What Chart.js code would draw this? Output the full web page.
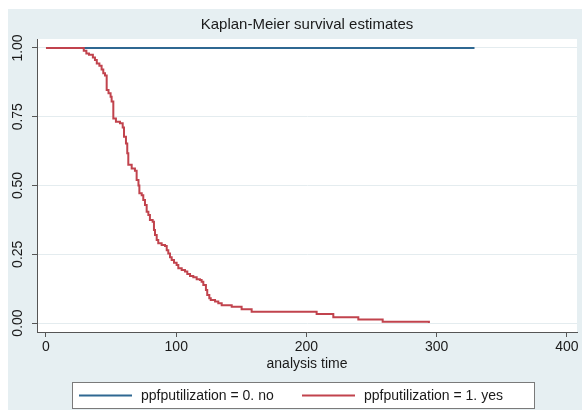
<!DOCTYPE html>
<html>
<head>
<meta charset="utf-8">
<script src="https://cdn.jsdelivr.net/npm/chart.js@4.4.0/dist/chart.umd.min.js"></script>
<style>
  html, body { margin: 0; padding: 0; background: #fff; }
  #wrap { position: relative; width: 582px; height: 410px; }
</style>
</head>
<body>
<div id="wrap"><canvas id="km"></canvas></div>
<script>
// chart text
const titleText = 'Kaplan-Meier survival estimates';
const xTitle = 'analysis time';
const seriesNames = ['ppfputilization = 0. no', 'ppfputilization = 1. yes'];

// axis ticks
const xTicks = [0, 100, 200, 300, 400];
const yTicks = [0, 0.25, 0.5, 0.75, 1];
const yTickLabels = ['0.00', '0.25', '0.50', '0.75', '1.00'];

// group 0 (no): no events
const noTimes = [0, 329];
const noSurv = [1, 1];

// group 1 (yes): survival after each drop
const yesTimes = [0, 29, 31, 33, 36, 37.6, 39, 41, 42.7, 44, 45.3, 46.6, 48, 49.6, 50.4, 51.7, 53.7, 56.8, 58.9, 59.9,
  61.4, 62.4, 63.2, 65.8, 68.3, 69.6, 71, 71.7, 73.5, 74.7, 76, 77.3, 78.6, 79.8, 81.9, 82.9, 83.7, 85, 86.2, 88.8,
  91.4, 92.7, 93.9, 95.2, 96.5, 98.3, 100.3, 101.6, 104.2, 106.7, 108.5, 110.6, 113.1, 115.7, 118.2, 119.5, 120.8,
  122.8, 123.8, 125.4, 126.5, 129.8, 132.3, 134.9, 142.6, 150.2, 157.9, 207.8, 220.6, 239.8, 258.5, 294];
const yesSurv = [1, 0.99, 0.98, 0.975, 0.965, 0.956, 0.944, 0.935, 0.922, 0.908, 0.9, 0.847, 0.835, 0.823, 0.805, 0.744, 0.732, 0.726, 0.711, 0.677,
  0.653, 0.617, 0.575, 0.562, 0.554, 0.52, 0.5, 0.472, 0.465, 0.447, 0.429, 0.405, 0.393, 0.375, 0.368, 0.338, 0.32, 0.302, 0.29, 0.284,
  0.28, 0.265, 0.253, 0.239, 0.229, 0.219, 0.211, 0.199, 0.193, 0.187, 0.178, 0.171, 0.166, 0.159, 0.156, 0.15, 0.138,
  0.12, 0.102, 0.09, 0.084, 0.078, 0.072, 0.065, 0.059, 0.05, 0.041, 0.033, 0.021, 0.013, 0.005, 0];

const FONT = '"Liberation Sans", Arial, sans-serif';
const TEXT = '#1a1a1a';
const BLUE = '#2f6892';
const RED = '#c1434d';

function toPoints(times, surv) {
    return times.map((t, i) => ({ x: t, y: surv[i] }));
}

// stata-like look: grey-blue graph region, vertical y labels, title, boxed legend
const stataLook = {
    id: 'stataLook',
    beforeDraw(chart) {
        const ctx = chart.ctx;
        const a = chart.chartArea;
        ctx.save();
        ctx.fillStyle = '#e6eff2';
        ctx.fillRect(8, 9, chart.width - 8, chart.height - 9);
        ctx.fillStyle = '#ffffff';
        ctx.fillRect(a.left, a.top, a.right - a.left, a.bottom - a.top);
        ctx.restore();
    },
    afterDraw(chart) {
        const ctx = chart.ctx;
        const a = chart.chartArea;
        const yScale = chart.scales.y;
        ctx.save();
        ctx.fillStyle = TEXT;

        // y tick labels, rotated
        ctx.font = '14px ' + FONT;
        ctx.textAlign = 'center';
        ctx.textBaseline = 'middle';
        yTicks.forEach((v, i) => {
            const y = yScale.getPixelForValue(v);
            ctx.save();
            ctx.translate(18, y);
            ctx.rotate(-Math.PI / 2);
            ctx.fillText(yTickLabels[i], 0, 0);
            ctx.restore();
        });

        // title
        ctx.font = '15px ' + FONT;
        ctx.fillText(titleText, (a.left + a.right) / 2, 25);

        // legend
        const boxL = 72, boxR = 535, boxT = 382, boxB = 409;
        ctx.fillStyle = '#ffffff';
        ctx.fillRect(boxL, boxT, boxR - boxL, boxB - boxT);
        ctx.strokeStyle = '#7a7a7a';
        ctx.lineWidth = 1;
        ctx.strokeRect(boxL + 0.5, boxT + 0.5, boxR - boxL - 1, boxB - boxT - 1);
        const midY = (boxT + boxB) / 2;
        const cols = [79, 302];
        const colors = [BLUE, RED];
        ctx.font = '14px ' + FONT;
        ctx.textAlign = 'left';
        cols.forEach((x, i) => {
            ctx.strokeStyle = colors[i];
            ctx.lineWidth = 2;
            ctx.beginPath();
            ctx.moveTo(x, midY);
            ctx.lineTo(x + 53, midY);
            ctx.stroke();
            ctx.fillStyle = TEXT;
            ctx.fillText(chart.data.datasets[i].label, x + 62, midY + 1);
        });
        ctx.restore();
    }
};

const ctx = document.getElementById('km').getContext('2d');
const chart = new Chart(ctx, {
    type: 'line',
    data: {
        datasets: [
            {
                label: seriesNames[0],
                data: toPoints(noTimes, noSurv),
                borderColor: BLUE,
                borderWidth: 2,
                stepped: 'before',
                pointRadius: 0,
                fill: false,
                order: 2
            },
            {
                label: seriesNames[1],
                data: toPoints(yesTimes, yesSurv),
                borderColor: RED,
                borderWidth: 2,
                stepped: 'before',
                pointRadius: 0,
                fill: false,
                order: 1
            }
        ]
    },
    options: {
        responsive: true,
        maintainAspectRatio: false,
        animation: false,
        layout: { padding: { top: 39, left: 0, right: 5, bottom: 37 } },
        plugins: {
            legend: { display: false },
            title: { display: false },
            tooltip: { enabled: false }
        },
        scales: {
            x: {
                type: 'linear',
                min: -6.9,
                max: 407.7,
                afterBuildTicks: s => { s.ticks = xTicks.map(v => ({ value: v })); },
                afterFit: s => { s.height = 41; },
                grid: { drawOnChartArea: false, drawTicks: true, tickLength: 5, tickColor: '#555' },
                border: { display: true, color: '#555', width: 1 },
                ticks: { color: TEXT, font: { family: FONT, size: 14 }, padding: 2, maxRotation: 0 },
                title: { display: true, text: xTitle, color: TEXT, font: { family: FONT, size: 14 }, padding: { top: 0, bottom: 0 } }
            },
            y: {
                type: 'linear',
                min: -0.0327,
                max: 1.0327,
                afterBuildTicks: s => { s.ticks = yTicks.map(v => ({ value: v })); },
                afterFit: s => { s.width = 37; },
                grid: { color: '#e4ecef', lineWidth: 1, drawTicks: true, tickLength: 5, tickColor: '#555' },
                border: { display: true, color: '#555', width: 1 },
                ticks: { display: false }
            }
        }
    },
    plugins: [stataLook]
});
</script>
</body>
</html>
